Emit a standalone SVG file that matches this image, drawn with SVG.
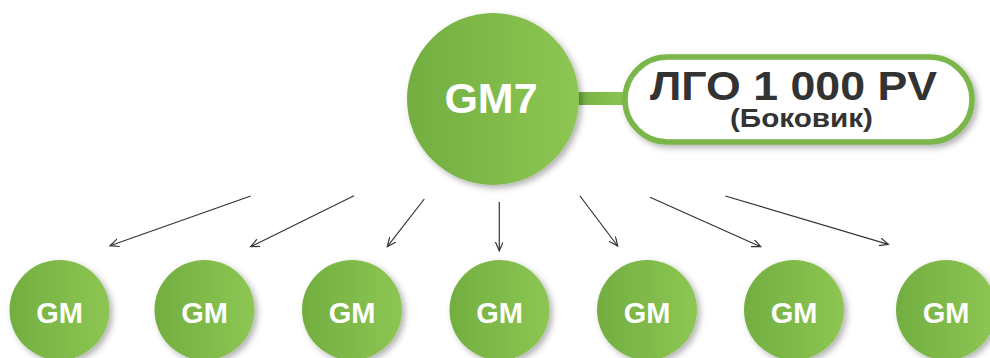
<svg xmlns="http://www.w3.org/2000/svg" width="990" height="358" viewBox="0 0 990 358">
  <style>
    .node { fill: url(#g); filter: url(#sh); }
    .lbl { fill: #ffffff; font-family: "Liberation Sans", Arial, sans-serif; font-weight: bold; text-anchor: middle; }
    .dark { fill: #333333; font-family: "Liberation Sans", Arial, sans-serif; font-weight: bold; text-anchor: middle; }
    .conn line { stroke: #333333; stroke-width: 1.2; fill: none; marker-end: url(#ah); }
  </style>
  <defs>
    <linearGradient id="g" x1="0" y1="0" x2="1" y2="0">
      <stop offset="0" stop-color="#72ae40"/>
      <stop offset="1" stop-color="#8dc653"/>
    </linearGradient>
    <filter id="sh" x="-20%" y="-20%" width="150%" height="150%">
      <feDropShadow dx="3" dy="3" stdDeviation="3" flood-color="#000" flood-opacity="0.3"/>
    </filter>
    <marker id="ah" markerUnits="userSpaceOnUse" markerWidth="12" markerHeight="10" refX="9" refY="4" orient="auto">
      <path d="M0,0 L9,4 L0,8" fill="none" stroke="#333333" stroke-width="1.2"/>
    </marker>
  </defs>

  <g id="link-bar">
    <rect x="570" y="92" width="58" height="13" fill="url(#g)"/>
  </g>

  <g id="gm7">
    <circle class="node" cx="493" cy="99" r="86"/>
    <text class="lbl" x="491" y="113" font-size="43">GM7</text>
  </g>

  <g id="lgo">
    <rect x="625" y="57" width="347" height="85" rx="42.5" ry="42.5" fill="#ffffff" stroke="#7ab648" stroke-width="5.5" filter="url(#sh)"/>
    <text class="dark" x="793.5" y="100" font-size="40" textLength="287" lengthAdjust="spacingAndGlyphs">ЛГО 1 000 PV</text>
    <text class="dark" x="801.5" y="126.5" font-size="26" textLength="143" lengthAdjust="spacingAndGlyphs">(Боковик)</text>
  </g>

  <g class="conn" id="connectors">
    <line x1="250.7" y1="196" x2="110" y2="245.7"/>
    <line x1="354" y1="195.7" x2="250.7" y2="246.7"/>
    <line x1="424.3" y1="199" x2="387.3" y2="246.7"/>
    <line x1="499.3" y1="202" x2="499.3" y2="250.7"/>
    <line x1="580" y1="196" x2="617.7" y2="246"/>
    <line x1="650" y1="197.3" x2="760.7" y2="246.7"/>
    <line x1="725.3" y1="196" x2="888.3" y2="244.3"/>
  </g>

  <g id="gm1"><circle class="node" cx="59.5" cy="310" r="50"/><text class="lbl" x="59.5" y="323" font-size="29">GM</text></g>
  <g id="gm2"><circle class="node" cx="204.5" cy="310" r="50"/><text class="lbl" x="204.5" y="323" font-size="29">GM</text></g>
  <g id="gm3"><circle class="node" cx="352" cy="310" r="50"/><text class="lbl" x="352" y="323" font-size="29">GM</text></g>
  <g id="gm4"><circle class="node" cx="499.5" cy="310" r="50"/><text class="lbl" x="499.5" y="323" font-size="29">GM</text></g>
  <g id="gm5"><circle class="node" cx="647" cy="310" r="50"/><text class="lbl" x="647" y="323" font-size="29">GM</text></g>
  <g id="gm6"><circle class="node" cx="794" cy="310" r="50"/><text class="lbl" x="794" y="323" font-size="29">GM</text></g>
  <g id="gm7b"><circle class="node" cx="946" cy="310" r="50"/><text class="lbl" x="946" y="323" font-size="29">GM</text></g>
</svg>
